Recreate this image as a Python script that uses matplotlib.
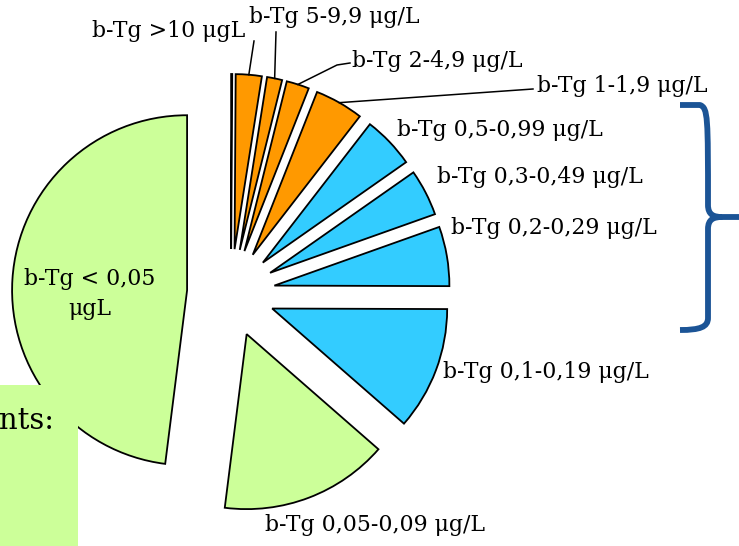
import math

import matplotlib
matplotlib.use("Agg")
import matplotlib.pyplot as plt
import matplotlib.patches as mpatches
from matplotlib.path import Path

W, H = 739, 546

# b-Tg ranges, clockwise from 12 o'clock (first entry is an empty sliver)
categories = ["", "b-Tg >10 μgL", "b-Tg 5-9,9 μg/L", "b-Tg 2-4,9 μg/L",
              "b-Tg 1-1,9 μg/L", "b-Tg 0,5-0,99 μg/L", "b-Tg 0,3-0,49 μg/L",
              "b-Tg 0,2-0,29 μg/L", "b-Tg 0,1-0,19 μg/L",
              "b-Tg 0,05-0,09 μg/L", "b-Tg < 0,05\nμgL"]
shares = [0.1, 2.4, 1.4, 2.1, 4.5, 4.8, 4.3, 5.5, 11.4, 15.6, 48.1]
groups = ["high", "high", "high", "high", "high",
          "mid", "mid", "mid", "mid", "low", "low"]

group_colors = {"high": "#FF9900", "mid": "#33CCFF", "low": "#CCFF99"}

# label placement in pixels from the top-left: (x, y, ha, leader start)
# a leader given as a list of points gets a bend before running to the wedge
label_pos = [None,
             (245, 31, "right", [(254, 41)]),
             (249, 17, "left", [(276, 32)]),
             (352, 61, "left", [(350, 63), (337, 65)]),
             (537, 86, "left", [(533, 89)]),
             (397, 130, "left", None),
             (437, 177, "left", None),
             (451, 228, "left", None),
             (443, 372, "left", None),
             (265, 525, "left", None),
             (90, 294, "center", None)]

plt.rcParams["font.family"] = ["DejaVu Serif"]

fig = plt.figure(figsize=(W / 100, H / 100), dpi=100)
ax = fig.add_axes([0, 0, 1, 1])

radius = 175
wedges, _ = ax.pie(shares, explode=[44] * len(shares), radius=radius,
                   center=(231, H - 293), startangle=90, counterclock=False,
                   colors=[group_colors[g] for g in groups],
                   wedgeprops=dict(edgecolor="black", linewidth=1.3))

for w, text, pos in zip(wedges, categories, label_pos):
    if pos is None:
        continue
    x, y, ha, leader = pos
    ax.text(x, H - y, text, ha=ha, va="center", fontsize=15.8,
            linespacing=1.5, zorder=6)
    if leader is not None:
        tm = math.radians((w.theta1 + w.theta2) / 2)
        cx, cy = w.center
        end = (cx + w.r * math.cos(tm), cy + w.r * math.sin(tm))
        xs = [p[0] for p in leader] + [end[0]]
        ys = [H - p[1] for p in leader] + [end[1]]
        ax.plot(xs, ys, color="black", linewidth=1.1, zorder=4)

# curly brace grouping the blue ranges
bx_end, bx, top, mid, bot = 680, 708, 105, 217, 330
brace_pts = [
    (bx_end, top), (bx - 8, top), (bx, top + 3), (bx, top + 12),
    (bx, mid - 12),
    (bx, mid - 2), (bx + 6, mid), (bx + 14, mid),
    (W + 10, mid),
    (bx + 14, mid), (bx + 6, mid), (bx, mid + 2), (bx, mid + 12),
    (bx, bot - 12),
    (bx, bot - 3), (bx - 8, bot), (bx_end, bot),
]
codes = [Path.MOVETO, Path.LINETO, Path.CURVE4, Path.CURVE4, Path.LINETO,
         Path.CURVE4, Path.CURVE4, Path.CURVE4, Path.LINETO,
         Path.MOVETO, Path.CURVE4, Path.CURVE4, Path.CURVE4, Path.LINETO,
         Path.CURVE4, Path.CURVE4, Path.CURVE4]
brace = Path([(px, H - py) for px, py in brace_pts], codes)
ax.add_patch(mpatches.PathPatch(brace, facecolor="none", edgecolor="#1B5496",
                                linewidth=4.2, capstyle="butt",
                                joinstyle="round", clip_on=False))

# text box at the lower left
ax.add_patch(mpatches.Rectangle((0, 0), 78, H - 385, facecolor="#CCFF99",
                                edgecolor="none", zorder=5))
ax.text(-1, H - 421, "nts:", ha="left", va="center", fontsize=21, zorder=6)

ax.set_xlim(0, W)
ax.set_ylim(0, H)
ax.set_aspect("equal")
ax.axis("off")

fig.savefig("out.png", dpi=100)
